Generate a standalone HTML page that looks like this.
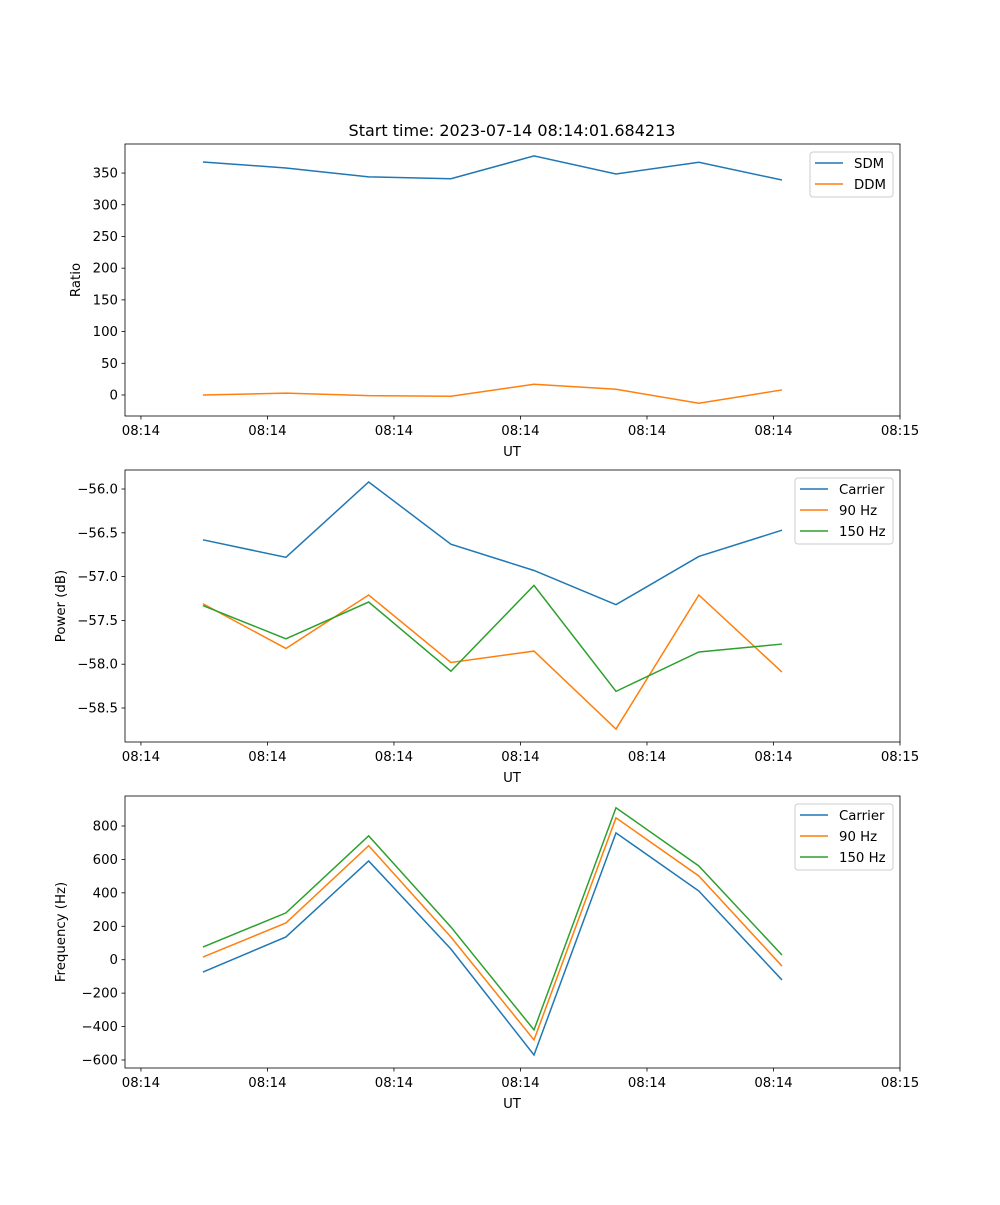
<!DOCTYPE html>
<html><head><meta charset="utf-8"><style>
body{margin:0;background:#fff}
svg{font-family:"DejaVu Sans","Liberation Sans",sans-serif;font-size:13.3px}
</style></head><body>
<svg id="fig" width="1000" height="1200" xmlns="http://www.w3.org/2000/svg">
<rect width="1000" height="1200" fill="#fff"/>
<text x="512" y="136" text-anchor="middle" font-size="16">Start time: 2023-07-14 08:14:01.684213</text>
</svg>
<script>
const xTickLabels=["08:14","08:14","08:14","08:14","08:14","08:14","08:15"];
const times=[0.49,1.146,1.80,2.45,3.107,3.755,4.41,5.067];
const sdm=[367.5,358,344,341,377,348.6,367,339];
const ddm=[0,3,-1,-2,17,9,-13,8];
const carrierPower=[-56.58,-56.78,-55.92,-56.63,-56.93,-57.32,-56.77,-56.47];
const hz90Power=[-57.31,-57.82,-57.21,-57.98,-57.85,-58.74,-57.21,-58.09];
const hz150Power=[-57.33,-57.71,-57.29,-58.08,-57.10,-58.31,-57.86,-57.77];
const carrierFreq=[-74,136,591,64,-570,759,411,-121];
const hz90Freq=[16,220,682,136,-480,849,501,-38];
const hz150Freq=[76,280,741,196,-420,909,561,28];
const ratioTicks=[0,50,100,150,200,250,300,350];
const powerTicks=[-56.0,-56.5,-57.0,-57.5,-58.0,-58.5];
const freqTicks=[-600,-400,-200,0,200,400,600,800];
const NS="http://www.w3.org/2000/svg",svg=document.getElementById('fig');
function el(t,a,p){const e=document.createElementNS(NS,t);for(const k in a)e.setAttribute(k,a[k]);(p||svg).appendChild(e);return e;}
const L=125,R=900,X0=-0.126,X1=6.0;
const xs=t=>L+(t-X0)/(X1-X0)*(R-L);
function panel(name,top,ymin,ymax,ticks,fmt,ylabel,series,leg){
  const bot=top+272;const ys=v=>bot-(v-ymin)/(ymax-ymin)*272;
  const g=el('g',{});
  
  
  ticks.forEach(v=>{const y=ys(v);
    el('line',{x1:L-3.5,x2:L,y1:y,y2:y,stroke:'#000','stroke-width':0.8},g);
    const t=el('text',{x:L-7,y:y+4.5,'text-anchor':'end'},g);t.textContent=fmt(v);
    
    });
  xTickLabels.forEach((s,i)=>{const x=xs(i);
    el('line',{x1:x,x2:x,y1:bot,y2:bot+3.5,stroke:'#000','stroke-width':0.8},g);
    const t=el('text',{x:x,y:bot+19,'text-anchor':'middle'},g);t.textContent=s;
    
    });
  const xl=el('text',{x:512,y:bot+40,'text-anchor':'middle'},g);xl.textContent='UT';
  
  
  const yl=el('text',{x:0,y:0,'text-anchor':'middle',transform:`translate(${name==='ratio'?80:65},${top+136}) rotate(-90)`},g);yl.textContent=ylabel;
  
  
  series.forEach(s=>{const p=el('polyline',{points:s.d.map((v,i)=>xs(times[i])+','+ys(v)).join(' '),fill:'none',stroke:s.c,'stroke-width':1.5},g);
    
    });
  el('rect',{x:L,y:top,width:R-L,height:272,fill:'none',stroke:'#000','stroke-width':0.8},g);
  const lg=el('g',{},g);
  
  
  el('rect',{x:leg,y:top+8,width:893-leg,height:series.length*21+3,rx:3,fill:'#fff',stroke:'#ccc','stroke-width':1},lg);
  series.forEach((s,i)=>{const y=top+19+i*21;
    el('line',{x1:leg+5,x2:leg+33,y1:y,y2:y,stroke:s.c,'stroke-width':1.5},lg);
    const t=el('text',{x:leg+44,y:y+5},lg);t.textContent=s.n;
    
    });
}
const B='#1f77b4',O='#ff7f0e',G='#2ca02c';
panel('ratio',144,-33.1,395.8,ratioTicks,v=>String(v),'Ratio',[{n:'SDM',d:sdm,c:B},{n:'DDM',d:ddm,c:O}],810);
panel('power',470,-58.888,-55.783,powerTicks,v=>'\u2212'+Math.abs(v).toFixed(1),'Power (dB)',[{n:'Carrier',d:carrierPower,c:B},{n:'90 Hz',d:hz90Power,c:O},{n:'150 Hz',d:hz150Power,c:G}],795);
panel('frequency',796,-648,979.6,freqTicks,v=>v<0?'\u2212'+(-v):String(v),'Frequency (Hz)',[{n:'Carrier',d:carrierFreq,c:B},{n:'90 Hz',d:hz90Freq,c:O},{n:'150 Hz',d:hz150Freq,c:G}],795);
</script>
</body></html>
